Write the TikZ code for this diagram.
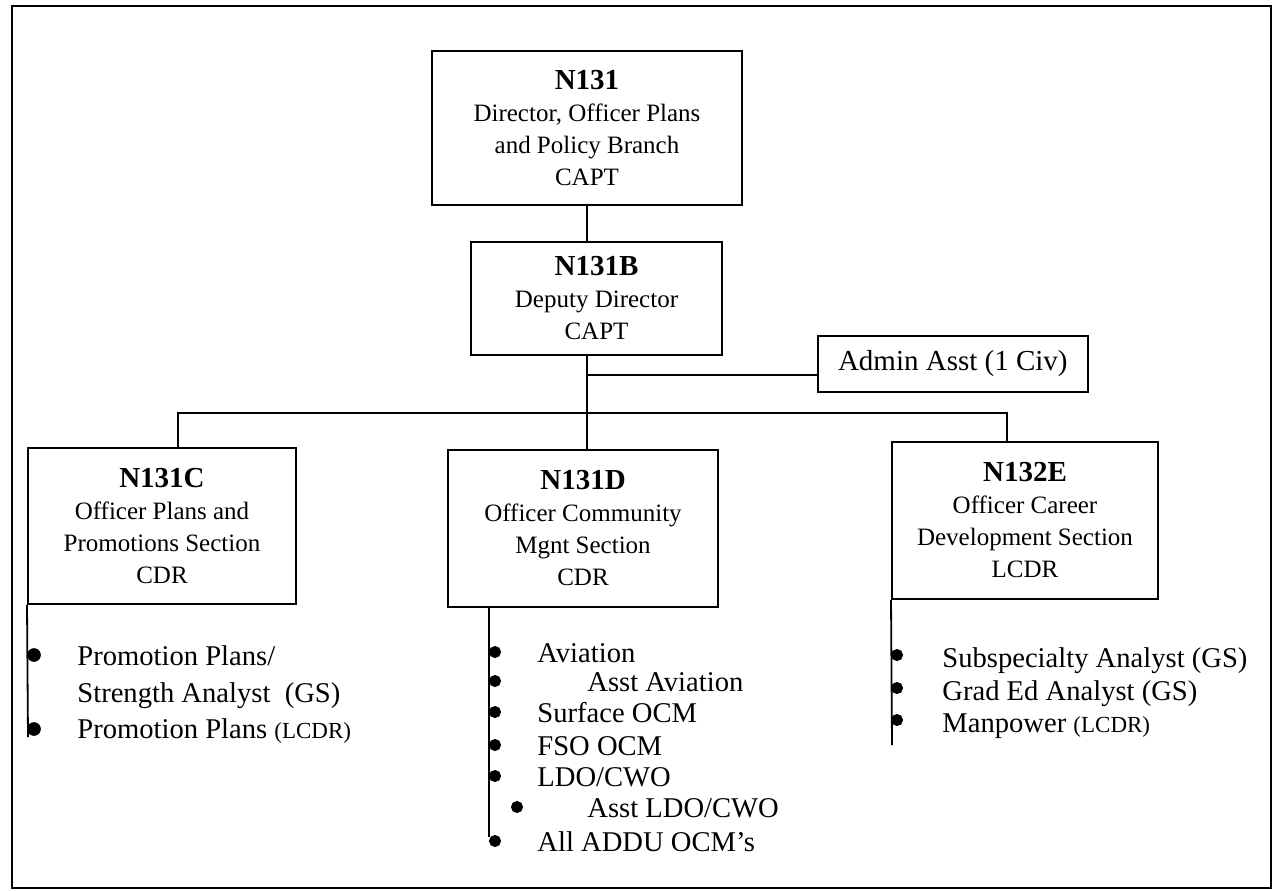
\documentclass[tikz,border=0pt]{standalone}
\usepackage{fontspec}
\setmainfont{Liberation Serif}
\usetikzlibrary{positioning}
\tikzset{
  unit/.style={draw, line width=1pt, align=center, inner sep=0pt, font=\fontsize{12.5}{16}\selectfont},
  item/.style={anchor=base west, inner sep=0pt, font=\fontsize{14.3}{16}\selectfont},
  link/.style={line width=0.9pt},
}
\newcommand{\code}[1]{{\fontsize{14.5}{17}\selectfont\bfseries #1}}
\newcommand{\grade}[1]{{\fontsize{11.5}{12}\selectfont #1}}

\begin{document}
\begin{tikzpicture}[x=0.5pt,y=-0.5pt]
\useasboundingbox (0,0) rectangle (1273,890);
\draw[line width=1.2pt] (12,6) rectangle (1271,888);

\node[unit, minimum width=155pt, minimum height=77pt] (n131) at (587,128) {\code{N131}\\Director, Officer Plans\\and Policy Branch\\CAPT};
\node[unit, minimum width=125.5pt, minimum height=56.5pt] (n131b) at (596.5,298.5) {\code{N131B}\\Deputy Director\\CAPT};
\node[unit, anchor=west, inner xsep=10pt, minimum height=28pt, font=\fontsize{14.5}{17}\selectfont] (admin) at (817,364) {Admin Asst (1 Civ)};
\node[unit, minimum width=134pt, minimum height=78pt] (n131c) at (162,526) {\code{N131C}\\Officer Plans and\\Promotions Section\\CDR};
\node[unit, minimum width=135pt, minimum height=78.5pt] (n131d) at (583,528.5) {\code{N131D}\\Officer Community\\Mgnt Section\\CDR};
\node[unit, minimum width=133pt, minimum height=78.5pt] (n132e) at (1025,520.5) {\code{N132E}\\Officer Career\\Development Section\\LCDR};

\coordinate (hub) at (587,413);
\coordinate (tap) at (587,375);
\coordinate (busL) at (178,413);
\coordinate (busR) at (1007,413);
\draw[link] (n131.south) -- (n131.south |- n131b.north);
\draw[link] (hub |- n131b.south) -- (hub |- n131d.north);
\draw[link] (tap) -- (tap -| admin.west);
\draw[link] (busL |- n131c.north) -- (busL) -- (busR) -- (busR |- n132e.north);

% section lists
\coordinate (endC) at (28,737);
\coordinate (endD) at (489,837);
\coordinate (endE) at (892,745);
\draw[link] (n131c.south west) -- (endC);
\draw[link] (endD |- n131d.south) -- (endD);
\draw[link] (n132e.south west) -- (endE);

\filldraw[black] (34,655) circle (3.2pt);
\filldraw[black] (34,729) circle (3.2pt);
\node[item] (c1) at (77,665) {Promotion Plans/};
\node[item] (c2) at (77,702) {Strength Analyst\ \ (GS)};
\node[item] (c3) at (77,738) {Promotion Plans \grade{(LCDR)}};

\filldraw[black] (495,652) circle (2.8pt);
\filldraw[black] (495,681) circle (2.8pt);
\filldraw[black] (495,712) circle (2.8pt);
\filldraw[black] (495,745) circle (2.8pt);
\filldraw[black] (495,776) circle (2.8pt);
\filldraw[black] (517,807) circle (2.8pt);
\filldraw[black] (495,841) circle (2.8pt);
\node[item] (d1) at (537,662) {Aviation};
\node[item] (d2) at (587,691) {Asst Aviation};
\node[item] (d3) at (537,722) {Surface OCM};
\node[item] (d4) at (537,755) {FSO OCM};
\node[item] (d5) at (537,786) {LDO/CWO};
\node[item] (d6) at (587,817) {Asst LDO/CWO};
\node[item] (d7) at (537,851) {All ADDU OCM’s};

\filldraw[black] (897,655) circle (2.8pt);
\filldraw[black] (897,688) circle (2.8pt);
\filldraw[black] (897,720) circle (2.8pt);
\node[item] (e1) at (942,667) {Subspecialty Analyst (GS)};
\node[item] (e2) at (942,700) {Grad Ed Analyst (GS)};
\node[item] (e3) at (942,732) {Manpower \grade{(LCDR)}};
\end{tikzpicture}
\end{document}
